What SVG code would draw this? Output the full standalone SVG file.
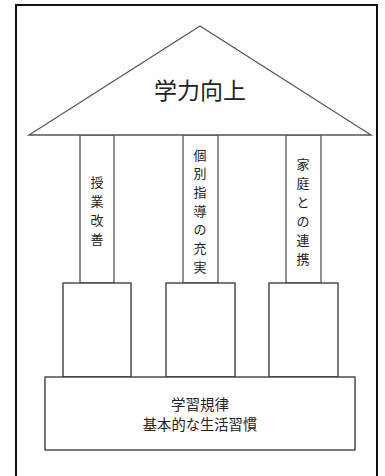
<svg xmlns="http://www.w3.org/2000/svg" width="385" height="476" viewBox="0 0 385 476">
<style>
.ln{fill:#fff;stroke:#555;stroke-width:1.3}
.bx{fill:#fff;stroke:#333;stroke-width:1.3}
text{font-family:"Noto Sans CJK JP","Noto Sans CJK SC",sans-serif;fill:#222;text-anchor:middle}
.v{font-size:13px}
</style>
<rect x="0" y="0" width="385" height="476" fill="#fff"/>
<rect id="frame" x="16" y="5" width="361" height="480" fill="none" stroke="#111" stroke-width="2"/>
<g id="connectors"></g>
<g id="pillar1"><rect class="ln" x="80" y="135" width="34" height="148"/>
<text class="v" x="97 97 97 97" y="187 206 225 244">授業改善</text></g>
<g id="pillar2"><rect class="ln" x="183" y="135" width="35" height="148"/>
<text class="v" x="200 200 200 200 200 200 200" y="159.5 178.2 196.9 215.6 234.3 253 271.7">個別指導の充実</text></g>
<g id="pillar3"><rect class="ln" x="286" y="135" width="35" height="148"/>
<text class="v" x="303 303 303 303 303 303" y="168.5 187.5 206.5 225.5 244.5 263.5">家庭との連携</text></g>
<g id="roof"><polygon class="ln" points="200,26 29,135 371,135"/>
<text x="200" y="99" font-size="23">学力向上</text></g>
<g id="block1"><rect class="bx" x="63" y="283" width="68" height="94"/></g>
<g id="block2"><rect class="bx" x="166" y="283" width="69" height="94"/></g>
<g id="block3"><rect class="bx" x="269" y="283" width="69" height="94"/></g>
<g id="base"><rect class="bx" x="45" y="377" width="310" height="73"/>
<text x="200" y="410" font-size="14.5">学習規律</text>
<text x="200" y="430" font-size="14.3">基本的な生活習慣</text></g>
</svg>
